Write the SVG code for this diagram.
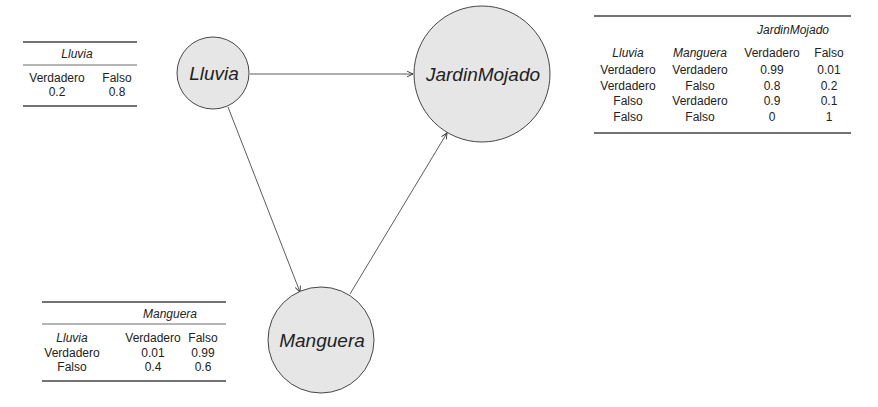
<svg xmlns="http://www.w3.org/2000/svg" width="878" height="407" viewBox="0 0 878 407">
<defs>
<style>
text{font-family:"Liberation Sans",Arial,sans-serif;fill:#222;}
.t{font-size:12px;text-anchor:middle;}
.i{font-style:italic;}
.n{font-size:19px;font-style:italic;text-anchor:middle;}
.node{fill:#e6e6e6;stroke:#333;stroke-width:0.9;}
.edge{stroke:#333;stroke-width:0.8;fill:none;marker-end:url(#arr);}
.rule{stroke:#444;stroke-width:1.4;}
.mid{stroke:#444;stroke-width:0.8;}
</style>
<marker id="arr" viewBox="0 0 10 10" refX="9.5" refY="5" markerWidth="7" markerHeight="7" markerUnits="userSpaceOnUse" orient="auto">
<path d="M1,1 L9.5,5 L1,9" fill="none" stroke="#333" stroke-width="1.3"/>
</marker>
</defs>
<rect width="878" height="407" fill="#fff"/>
<g id="connectors">
<line class="edge" x1="250" y1="74" x2="413" y2="74"/>
<line class="edge" x1="228" y1="107" x2="300" y2="292"/>
<line class="edge" x1="350" y1="294" x2="447" y2="133"/>
</g>
<g id="node-lluvia">
<circle class="node" cx="213" cy="73" r="36"/>
<text class="n" x="214" y="80">Lluvia</text>
</g>
<g id="node-jardinmojado">
<circle class="node" cx="482" cy="74" r="68"/>
<text class="n" x="483" y="81">JardinMojado</text>
</g>
<g id="node-manguera">
<circle class="node" cx="321" cy="340" r="53"/>
<text class="n" x="322" y="347">Manguera</text>
</g>
<g id="table-lluvia">
<line class="rule" x1="23" y1="42" x2="137" y2="42"/>
<text class="t i" x="77" y="58">Lluvia</text>
<line class="mid" x1="23" y1="65" x2="137" y2="65"/>
<text class="t" x="57" y="82">Verdadero</text>
<text class="t" x="117" y="82">Falso</text>
<text class="t" x="57" y="96">0.2</text>
<text class="t" x="117" y="96">0.8</text>
<line class="rule" x1="23" y1="106" x2="137" y2="106"/>
</g>
<g id="table-jardinmojado">
<line class="rule" x1="594" y1="16" x2="851" y2="16"/>
<text class="t i" x="793" y="34">JardinMojado</text>
<text class="t i" x="628" y="57">Lluvia</text>
<text class="t i" x="700" y="57">Manguera</text>
<text class="t" x="772" y="57">Verdadero</text>
<text class="t" x="829" y="57">Falso</text>
<text class="t" x="628" y="74">Verdadero</text>
<text class="t" x="700" y="74">Verdadero</text>
<text class="t" x="772" y="74">0.99</text>
<text class="t" x="829" y="74">0.01</text>
<text class="t" x="628" y="90">Verdadero</text>
<text class="t" x="700" y="90">Falso</text>
<text class="t" x="772" y="90">0.8</text>
<text class="t" x="829" y="90">0.2</text>
<text class="t" x="628" y="105">Falso</text>
<text class="t" x="700" y="105">Verdadero</text>
<text class="t" x="772" y="105">0.9</text>
<text class="t" x="829" y="105">0.1</text>
<text class="t" x="628" y="121">Falso</text>
<text class="t" x="700" y="121">Falso</text>
<text class="t" x="772" y="121">0</text>
<text class="t" x="829" y="121">1</text>
<line class="rule" x1="594" y1="133" x2="851" y2="133"/>
</g>
<g id="table-manguera">
<line class="rule" x1="42" y1="302" x2="226" y2="302"/>
<text class="t i" x="170" y="318">Manguera</text>
<line class="mid" x1="42" y1="324" x2="226" y2="324"/>
<text class="t i" x="72" y="342">Lluvia</text>
<text class="t" x="153" y="342">Verdadero</text>
<text class="t" x="203" y="342">Falso</text>
<text class="t" x="72" y="357">Verdadero</text>
<text class="t" x="153" y="357">0.01</text>
<text class="t" x="203" y="357">0.99</text>
<text class="t" x="72" y="371">Falso</text>
<text class="t" x="153" y="371">0.4</text>
<text class="t" x="203" y="371">0.6</text>
<line class="rule" x1="42" y1="381" x2="226" y2="381"/>
</g>
</svg>
